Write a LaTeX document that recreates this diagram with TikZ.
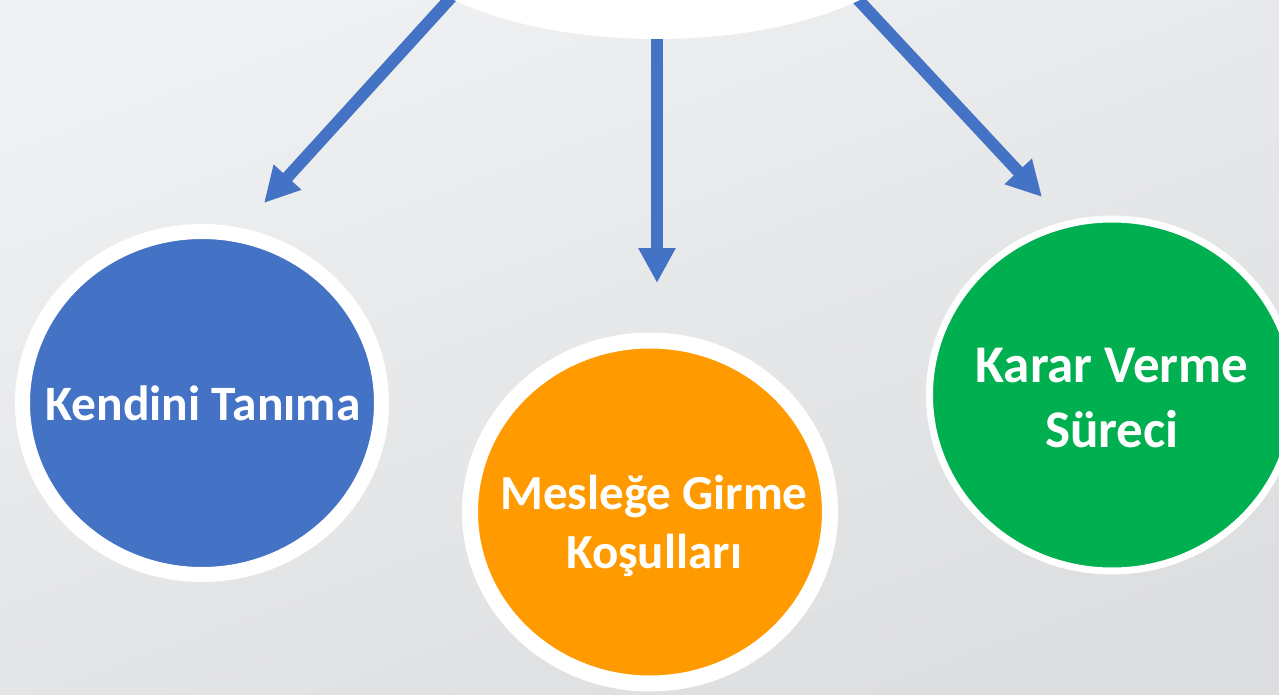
\documentclass[tikz,border=0pt]{standalone}
\usepackage{fontspec}
\setmainfont{Carlito}
\usetikzlibrary{shapes.geometric,arrows.meta}

\definecolor{bglight}{HTML}{EFF0F2}
\definecolor{bgdark}{HTML}{DDDEE0}
\definecolor{linkblue}{HTML}{4472C4}
\definecolor{ktblue}{HTML}{4472C4}
\definecolor{mgkorange}{HTML}{FF9B00}
\definecolor{kvsgreen}{HTML}{00B050}

\pgfdeclarelayer{bg}
\pgfdeclarelayer{links}
\pgfsetlayers{bg,links,main}

\begin{document}
\begin{tikzpicture}[x=1pt,y=-1pt,
  disc/.style={ellipse, draw=white, inner sep=0pt},
  caption/.style={text=white, align=center, inner sep=0pt},
  link/.style={draw=linkblue, line width=12pt, shorten <=-20pt,
    -{Triangle[width=35pt,length=35pt]}}]
\useasboundingbox (0,0) rectangle (1279,695);
\clip (0,0) rectangle (1279,695);
\begin{pgfonlayer}{bg}
\shade[top color=bglight, bottom color=bgdark, shading angle=20] (0,0) rectangle (1279,695);
\end{pgfonlayer}

% top ellipse and the three circles
\node[disc, fill=white, draw=none, minimum width=550pt, minimum height=240pt] (top) at (657,-81) {};
\node[disc, fill=ktblue, line width=15pt, minimum width=359pt, minimum height=343pt] (kt) at (202,403) {};
\node[disc, fill=mgkorange, line width=16pt, minimum width=360pt, minimum height=343pt] (mgk) at (650,512) {};
\node[disc, fill=kvsgreen, line width=7pt, minimum width=365pt, minimum height=352pt] (kvs) at (1112,395) {};

\node[caption, font=\bfseries\fontsize{49.5}{59}\selectfont] (kt-text) at ([xshift=1pt]kt.center) {Kendini Tanıma};
\node[caption, font=\bfseries\fontsize{49}{59}\selectfont] (mgk-text) at ([xshift=4pt,yshift=-14pt]mgk.center) {Mesleğe Girme\\Koşulları};
\node[caption, font=\bfseries\fontsize{53}{65}\selectfont] (kvs-text) at ([yshift=-3pt]kvs.center) {Karar Verme\\Süreci};

% arrow tips
\coordinate (kt-tip) at (264,203);
\coordinate (mgk-tip) at (657,283);
\coordinate (kvs-tip) at (1042,197);

\begin{pgfonlayer}{links}
\draw[link] (top.201.6) -- (kt-tip);
\draw[link] (top.south) -- (mgk-tip);
\draw[link] (top.338.4) -- (kvs-tip);
\end{pgfonlayer}
\end{tikzpicture}
\end{document}
